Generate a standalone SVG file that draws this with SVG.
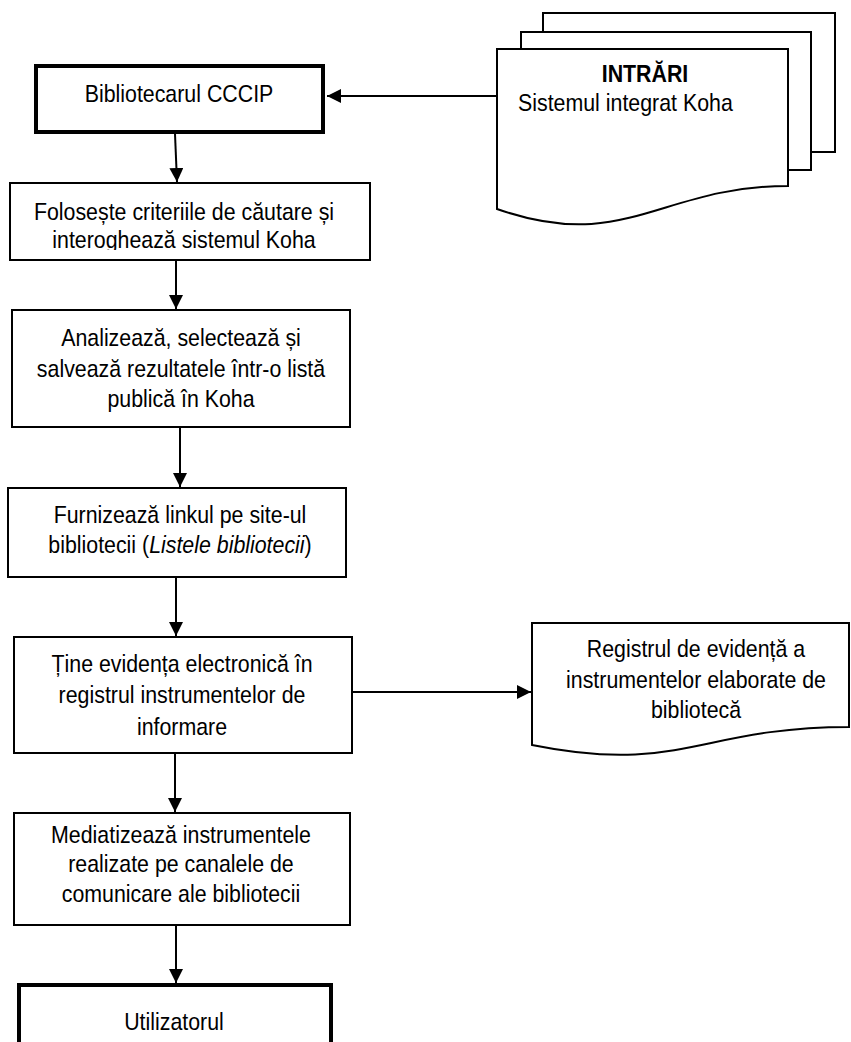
<svg xmlns="http://www.w3.org/2000/svg" width="851" height="1042" viewBox="0 0 851 1042">
<style>
.box{fill:#fff;stroke:#000;stroke-width:2}
.thick{fill:#fff;stroke:#000;stroke-width:4}
.doc{fill:#fff;stroke:#000;stroke-width:2;stroke-linejoin:miter}
.t{font-family:"Liberation Sans",Arial,sans-serif;font-size:24px;fill:#000;text-anchor:middle}
.b{font-weight:bold}
.st{text-anchor:start}
.conn{stroke:#000;stroke-width:2;fill:none;marker-end:url(#ah)}
</style>
<defs>
<marker id="ah" markerUnits="userSpaceOnUse" markerWidth="14" markerHeight="14" refX="14" refY="7" orient="auto">
<path d="M0,0 L14,7 L0,14 Z" fill="#000"/>
</marker>
<clipPath id="clipFol"><rect x="11" y="183" width="358" height="67"/></clipPath>
</defs>
<rect width="851" height="1042" fill="#fff"/>

<g id="connectors">
<line class="conn" x1="497" y1="96" x2="327" y2="96"/>
<line class="conn" x1="175" y1="134" x2="177" y2="182"/>
<line class="conn" x1="176" y1="261" x2="176" y2="309"/>
<line class="conn" x1="180" y1="428" x2="180" y2="487"/>
<line class="conn" x1="176" y1="578" x2="176" y2="636"/>
<line class="conn" x1="353" y1="692" x2="531" y2="692"/>
<line class="conn" x1="175" y1="754" x2="175" y2="812"/>
<line class="conn" x1="176" y1="926" x2="176" y2="983"/>
</g>

<g id="node-intrari">
<path class="doc" d="M543,13 H835 V152 H811 V32 H543 Z"/>
<path class="doc" d="M521,32 H811 V170 H788 V49 H521 Z"/>
<path class="doc" d="M497,49 H788 V186 C660,186 625,254 497,209 Z"/>
<text class="t b" transform="translate(645,82) scale(0.89,1)">INTRĂRI</text>
<text class="t st" transform="translate(518,111) scale(0.89,1)">Sistemul integrat Koha</text>
</g>

<g id="node-bibliotecar">
<rect class="thick" x="36" y="66" width="287" height="66"/>
<text class="t" transform="translate(179,102) scale(0.89,1)">Bibliotecarul CCCIP</text>
</g>

<g id="node-foloseste">
<rect class="box" x="10" y="183" width="360" height="77"/>
<g clip-path="url(#clipFol)">
<text class="t" transform="translate(184,220) scale(0.89,1)">Folosește criteriile de căutare și</text>
<text class="t" transform="translate(184,248) scale(0.89,1)">interoghează sistemul Koha</text>
</g>
</g>

<g id="node-analizeaza">
<rect class="box" x="12" y="310" width="338" height="117"/>
<text class="t" transform="translate(181,346) scale(0.89,1)">Analizează, selectează și</text>
<text class="t" transform="translate(181,377) scale(0.89,1)">salvează rezultatele într-o listă</text>
<text class="t" transform="translate(181,407) scale(0.89,1)">publică în Koha</text>
</g>

<g id="node-furnizeaza">
<rect class="box" x="8" y="488" width="338" height="89"/>
<text class="t" transform="translate(180,523) scale(0.89,1)">Furnizează linkul pe site-ul</text>
<text class="t" transform="translate(180,553) scale(0.89,1)">bibliotecii (<tspan font-style="italic">Listele bibliotecii</tspan>)</text>
</g>

<g id="node-tine">
<rect class="box" x="14" y="637" width="338" height="116"/>
<text class="t" transform="translate(182,672) scale(0.89,1)">Ține evidența electronică în</text>
<text class="t" transform="translate(182,703) scale(0.89,1)">registrul instrumentelor de</text>
<text class="t" transform="translate(182,735) scale(0.89,1)">informare</text>
</g>

<g id="node-registru">
<path class="doc" d="M532,623 H849 V727 C700,727 680,775 532,745 Z"/>
<text class="t" transform="translate(696,657) scale(0.89,1)">Registrul de evidență a</text>
<text class="t" transform="translate(696,688) scale(0.89,1)">instrumentelor elaborate de</text>
<text class="t" transform="translate(696,718) scale(0.89,1)">bibliotecă</text>
</g>

<g id="node-mediatizeaza">
<rect class="box" x="14" y="813" width="336" height="112"/>
<text class="t" transform="translate(181,843) scale(0.89,1)">Mediatizează instrumentele</text>
<text class="t" transform="translate(181,872) scale(0.89,1)">realizate pe canalele de</text>
<text class="t" transform="translate(181,902) scale(0.89,1)">comunicare ale bibliotecii</text>
</g>

<g id="node-utilizatorul">
<rect class="thick" x="19" y="985" width="312" height="100"/>
<text class="t" transform="translate(174,1030) scale(0.89,1)">Utilizatorul</text>
</g>
</svg>
